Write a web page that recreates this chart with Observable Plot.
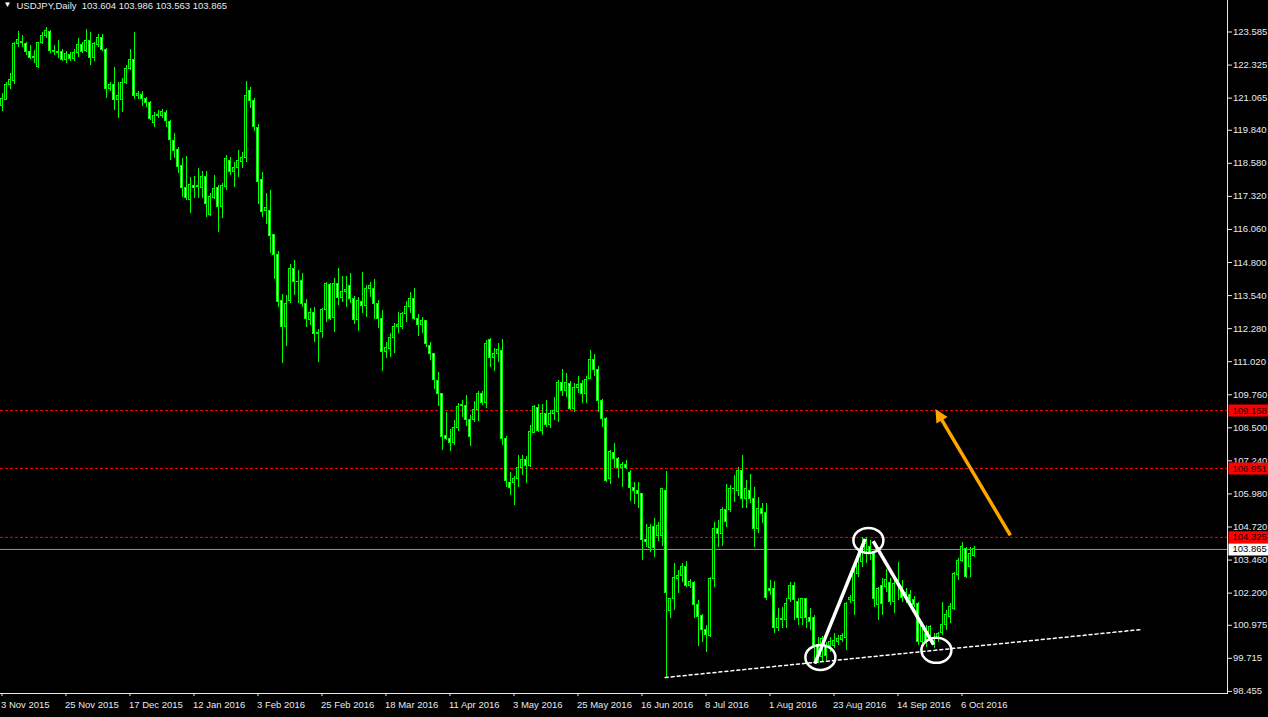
<!DOCTYPE html>
<html><head><meta charset="utf-8">
<script src="https://cdn.jsdelivr.net/npm/d3@7"></script>
<script src="https://cdn.jsdelivr.net/npm/@observablehq/plot@0.6"></script>
<style>
html,body{margin:0;padding:0;background:#000;overflow:hidden}
#chart{width:1268px;height:717px}
</style></head><body><div id="chart"></div>
<script>
// ---- data ----
const title = "USDJPY,Daily  103.604 103.986 103.563 103.865";
const opens = [120.75,121.01,121.57,121.71,123.13,123.20,123.13,122.82,122.60,122.25,123.16,123.43,123.58,122.86,122.84,122.82,122.52,122.71,122.56,122.79,123.10,122.85,123.26,122.60,123.10,123.36,122.90,121.42,121.55,121.00,121.00,121.65,122.18,122.52,121.13,121.18,121.04,120.88,120.13,120.38,120.40,120.51,120.15,119.42,119.07,118.46,117.65,117.19,117.72,117.67,117.65,118.05,116.62,117.27,117.63,116.91,117.67,118.65,118.24,118.41,118.62,118.79,121.32,120.97,119.93,117.93,116.76,116.78,115.83,115.09,113.35,112.36,113.35,114.56,114.06,114.08,113.22,112.60,112.88,112.06,112.15,113.00,113.96,112.69,113.99,113.45,113.67,113.92,113.41,112.61,113.29,113.16,113.80,113.80,113.20,112.65,111.38,111.51,111.93,112.33,112.36,112.82,113.12,113.41,112.65,112.40,112.56,111.60,111.32,110.30,109.77,108.17,108.08,107.91,108.50,109.32,109.35,108.80,108.80,109.18,109.79,109.44,111.83,111.17,111.30,111.42,108.08,106.39,106.39,106.56,106.98,107.26,107.06,108.30,109.26,108.37,109.01,108.59,109.01,109.10,110.20,109.92,110.17,109.22,110.00,110.17,109.77,110.37,111.09,110.71,109.54,108.84,106.56,107.53,107.32,106.98,107.10,106.77,106.21,106.09,105.99,104.23,103.91,104.72,104.37,104.37,106.11,101.50,101.96,102.75,102.85,103.19,102.46,102.58,101.73,101.32,100.78,100.56,102.74,104.65,104.46,105.35,105.35,106.15,106.11,106.87,105.79,106.11,105.79,104.63,105.39,105.26,102.36,102.36,100.86,101.22,101.16,101.98,102.46,101.88,101.25,101.96,101.25,101.26,100.17,99.75,100.20,100.17,100.20,100.33,100.42,100.50,101.92,101.89,102.93,103.38,103.70,103.95,103.70,101.73,102.49,102.45,102.58,101.86,102.55,102.45,102.02,102.11,101.92,101.79,100.33,100.65,100.58,100.39,100.46,100.68,100.97,101.28,101.60,102.91,103.44,103.89,103.19,103.604];
const highs = [121.23,121.67,121.99,123.20,123.60,123.45,123.20,123.07,122.88,123.20,123.55,123.77,123.66,123.07,123.26,122.90,122.85,122.80,122.90,123.32,123.20,123.67,123.58,123.20,123.48,123.50,122.95,121.67,122.25,121.67,121.80,122.30,122.90,123.55,121.30,121.30,121.10,120.95,120.50,120.58,120.65,120.60,120.20,119.70,119.20,118.75,118.84,118.05,118.08,118.37,118.28,118.28,117.42,118.12,117.73,117.82,118.88,118.81,118.62,119.07,119.00,121.70,121.48,121.04,120.06,118.24,117.42,117.54,115.85,115.23,113.58,113.54,114.72,114.88,114.50,114.37,113.39,113.03,113.10,112.25,113.05,114.02,114.00,114.18,114.56,114.27,114.27,114.37,113.50,113.48,114.43,113.92,114.05,114.14,113.35,112.97,111.76,112.11,112.46,112.91,112.91,113.33,113.67,113.80,112.82,112.72,112.59,111.76,111.35,110.62,109.80,109.10,108.42,108.78,109.44,109.54,109.73,108.97,109.52,109.90,109.90,111.83,111.90,111.51,111.73,111.85,108.17,106.81,106.65,107.45,107.45,107.41,108.59,109.35,109.39,109.39,109.54,109.16,109.67,110.30,110.71,110.58,110.28,110.17,110.46,110.30,110.46,111.45,111.29,110.84,109.57,108.88,107.64,107.91,107.38,107.19,107.25,106.87,106.43,106.43,106.01,104.82,104.80,105.06,104.90,106.17,106.84,102.00,103.32,103.06,103.32,103.41,102.72,102.64,101.92,101.37,100.97,102.81,104.90,104.97,105.48,106.33,106.30,106.68,107.00,107.45,106.49,106.71,106.24,105.86,105.60,105.60,102.68,102.64,101.60,101.67,102.01,102.62,102.62,102.01,102.01,102.01,101.60,101.35,100.52,100.55,100.33,100.50,100.65,100.58,100.68,101.86,102.11,103.06,103.89,104.33,104.33,104.20,103.76,102.43,102.74,103.09,102.74,102.68,103.38,102.68,102.36,102.30,102.07,101.86,101.09,100.97,100.97,100.65,100.71,101.86,101.54,101.79,103.00,103.51,104.14,103.95,103.95,103.986];
const lows = [120.57,120.97,121.38,121.60,123.00,123.01,122.70,122.52,122.37,122.20,123.10,123.33,122.78,122.69,122.56,122.45,122.40,122.45,122.45,122.63,122.75,122.80,122.31,122.45,123.00,122.85,121.06,121.30,120.59,120.30,120.53,121.60,122.10,121.00,121.00,120.75,120.70,120.20,119.95,120.30,120.30,119.95,118.69,118.75,118.20,117.29,117.17,116.68,117.23,117.23,117.23,116.50,116.55,117.20,115.96,116.46,117.54,118.10,117.65,118.05,118.40,118.60,120.66,119.80,117.01,116.50,116.25,115.13,114.15,113.10,110.96,111.60,113.25,113.54,113.25,113.10,112.31,112.40,111.76,111.00,111.90,112.53,112.60,112.15,113.16,113.29,113.10,113.23,112.44,112.18,112.84,112.72,113.48,112.61,112.27,110.66,111.13,111.17,111.34,112.11,112.23,112.53,112.84,112.59,111.98,112.08,111.55,111.07,109.95,109.33,107.64,108.02,107.61,107.83,108.37,108.88,108.55,107.79,108.71,108.75,109.35,109.22,110.81,110.66,111.00,107.83,106.24,105.92,105.54,106.24,106.68,106.39,107.00,108.27,108.33,108.21,108.52,108.46,108.78,108.71,109.69,109.67,109.16,109.10,109.80,109.42,109.44,110.33,110.46,109.10,108.50,106.43,106.34,106.94,106.56,106.24,106.90,105.71,105.58,105.41,103.44,103.95,103.74,103.57,104.17,103.99,98.98,101.22,101.54,102.17,102.59,102.43,102.39,101.22,100.18,100.33,99.95,100.52,102.43,103.95,103.99,104.71,105.26,105.67,105.90,105.41,105.41,105.60,103.95,104.46,104.84,101.92,102.11,100.65,100.72,100.84,100.84,101.86,101.16,100.97,100.97,100.84,100.78,99.63,99.51,99.60,99.63,99.95,100.08,100.20,100.30,100.01,101.79,101.35,102.81,103.19,103.32,103.45,101.66,101.16,101.35,102.24,101.73,101.41,101.92,101.86,101.79,101.79,101.64,100.20,100.14,100.14,100.33,100.08,100.33,100.58,100.78,101.03,101.54,102.68,103.38,102.74,102.81,103.563];
const closes = [121.04,121.55,121.74,123.13,123.29,123.15,122.82,122.59,122.63,123.17,123.45,123.64,122.85,122.84,122.80,122.52,122.73,122.56,122.79,123.10,122.82,123.24,122.60,123.11,123.36,122.90,121.42,121.55,121.00,121.13,121.65,122.18,122.52,121.13,121.23,121.04,120.87,120.25,120.38,120.43,120.52,120.19,119.45,119.04,118.43,117.65,117.25,117.77,117.65,117.70,118.05,117.04,117.29,117.61,116.91,117.70,118.75,118.24,118.41,118.66,118.79,121.13,120.97,119.96,117.86,116.72,116.88,115.80,115.09,113.29,112.36,113.20,114.56,114.05,114.04,113.22,112.65,112.88,112.08,112.12,113.00,113.99,112.65,113.99,113.45,113.67,113.76,113.41,112.61,113.33,113.16,113.80,113.92,113.20,112.65,111.38,111.55,111.93,112.36,112.40,112.82,113.12,113.41,112.65,112.40,112.56,111.70,111.32,110.33,109.77,108.14,108.08,107.91,108.50,109.31,109.37,108.78,108.14,109.18,109.79,109.44,111.70,111.17,111.30,111.45,108.08,106.49,106.21,106.56,106.98,107.26,107.06,108.33,109.29,108.37,109.01,108.59,109.01,109.14,110.20,109.92,110.20,109.22,110.02,110.15,109.77,110.33,111.09,110.71,109.52,108.84,106.49,107.57,107.32,106.98,107.10,106.98,106.21,106.09,105.99,104.23,104.14,104.68,103.91,104.75,106.15,102.21,101.96,102.77,102.85,103.19,102.46,102.64,101.73,101.28,100.78,100.59,102.74,104.65,104.46,105.35,104.90,106.15,106.18,106.87,105.79,106.15,105.79,104.63,105.39,105.22,102.01,102.28,100.86,101.22,101.16,101.79,102.46,101.92,101.25,101.96,101.25,101.09,100.14,99.73,100.45,99.82,100.33,100.39,100.46,100.58,101.79,102.02,102.96,103.44,103.76,104.08,103.70,101.98,102.36,101.79,102.70,101.86,102.55,102.71,102.02,102.20,101.92,101.73,100.33,101.00,100.29,100.90,100.24,100.65,100.97,101.35,101.67,102.94,103.44,103.95,102.81,103.70,103.865];

const dateTickIndex = [0,16,32,48,64,80,96,112,128,144,160,176,192,208,224,240];
const dateTickLabels = ["3 Nov 2015","25 Nov 2015","17 Dec 2015","12 Jan 2016","3 Feb 2016","25 Feb 2016","18 Mar 2016","11 Apr 2016","3 May 2016","25 May 2016","16 Jun 2016","8 Jul 2016","1 Aug 2016","23 Aug 2016","14 Sep 2016","6 Oct 2016"];
const priceTicks = [123.585,122.325,121.065,119.840,118.580,117.320,116.060,114.800,113.540,112.280,111.020,109.760,108.500,107.240,105.980,104.720,103.460,102.200,100.975,99.715,98.455];

const levelPrices = [109.158, 106.951, 104.325];
const lastPrice = 103.865;

// drawn annotations (bar index, price)
const trendIdx = [165.8, 284.6];
const trendPrice = [98.985, 100.81];
const legStartIdx = [203.2, 217.8];
const legStartPrice = [99.51, 104.18];
const legEndIdx = [215.8, 232.9];
const legEndPrice = [104.27, 100.24];
const circleIdx = [204.6, 216.6, 233.6];
const circlePrice = [99.75, 104.21, 100.02];
const arrowFromIdx = 252.1, arrowFromPrice = 104.40;
const arrowHeadIdx = 234.5, arrowHeadPrice = 108.92;
const arrowHeadRotate = -30.6;

// ---- tables ----
const candles = opens.map((o, i) => ({i, o, h: highs[i], l: lows[i], c: closes[i]}));
const bulls = candles.filter(d => d.c >= d.o);
const bears = candles.filter(d => d.c < d.o);
const trend = trendIdx.map((i, k) => ({i, p: trendPrice[k]}));
const legs = legStartIdx.map((i, k) => ({x1: i, y1: legStartPrice[k], x2: legEndIdx[k], y2: legEndPrice[k]}));
const circles = circleIdx.map((i, k) => ({i, p: circlePrice[k]}));
const dateTicks = dateTickIndex.map((i, k) => ({i, label: dateTickLabels[k]}));
const arrowLine = [{x1: arrowFromIdx, y1: arrowFromPrice, x2: arrowHeadIdx, y2: arrowHeadPrice}];
const fmt = d3.format(".3f");

function ellipse(rx, ry) {
  const k = 0.5523;
  return {draw(c) {
    c.moveTo(rx, 0);
    c.bezierCurveTo(rx, ry * k, rx * k, ry, 0, ry);
    c.bezierCurveTo(-rx * k, ry, -rx, ry * k, -rx, 0);
    c.bezierCurveTo(-rx, -ry * k, -rx * k, -ry, 0, -ry);
    c.bezierCurveTo(rx * k, -ry, rx, -ry * k, rx, 0);
    c.closePath();
  }};
}
const badge = {draw(c) { c.moveTo(1, -6); c.lineTo(42, -6); c.lineTo(42, 6); c.lineTo(1, 6); c.closePath(); }};
const arrowHead = {draw(c) { c.moveTo(0, -9); c.lineTo(6.5, 4); c.lineTo(-6.5, 4); c.closePath(); }};

const GREEN = "#00ff00";
const TXT = "#e4eaf0";

const chart = Plot.plot({
  width: 1268, height: 717,
  marginTop: 0, marginRight: 41, marginBottom: 24, marginLeft: 0,
  style: {background: "#000", color: TXT, fontFamily: "'Liberation Sans',Arial,sans-serif", fontSize: "9.5px"},
  x: {domain: [-0.375, 306.375], ticks: dateTickIndex, tickFormat: () => "", tickSize: 3, line: true, label: null},
  y: {domain: [98.375, 124.785], axis: "right", ticks: priceTicks, tickFormat: fmt, tickSize: 4, tickPadding: 1.5, line: true, label: null},
  marks: [
    Plot.ruleY(levelPrices, {stroke: "#ff0000", strokeDasharray: "3,2"}),
    Plot.ruleY([lastPrice], {stroke: "#8c98a8"}),
    Plot.ruleX(candles, {x: "i", y1: "l", y2: "h", stroke: GREEN, shapeRendering: "crispEdges"}),
    Plot.rect(bulls, {x1: d => d.i - 0.25, x2: d => d.i + 0.25, y1: "o", y2: "c", fill: "#000", stroke: GREEN, shapeRendering: "crispEdges"}),
    Plot.rect(bears, {x1: d => d.i - 0.25, x2: d => d.i + 0.25, y1: "c", y2: "o", fill: "#fff", stroke: GREEN, shapeRendering: "crispEdges"}),
    Plot.line(trend, {x: "i", y: "p", stroke: "#fff", strokeDasharray: "3,3"}),
    Plot.link(legs, {x1: "x1", y1: "y1", x2: "x2", y2: "y2", stroke: "#fff", strokeWidth: 3.5}),
    Plot.dot(circles, {x: "i", y: "p", symbol: ellipse(15, 12.5), stroke: "#fff", strokeWidth: 2.5, fill: "none"}),
    Plot.link(arrowLine, {x1: "x1", y1: "y1", x2: "x2", y2: "y2", stroke: "#ffa500", strokeWidth: 3.5}),
    Plot.dot([0], {x: () => arrowHeadIdx, y: () => arrowHeadPrice, symbol: arrowHead, rotate: arrowHeadRotate, fill: "#ffa500", stroke: "none"}),
    Plot.dot(levelPrices, {y: d => d, frameAnchor: "right", symbol: badge, fill: "#ff0000", stroke: "none"}),
    Plot.text(levelPrices, {y: d => d, frameAnchor: "right", text: d => fmt(d), textAnchor: "start", dx: 5, fill: "#200000"}),
    Plot.dot([lastPrice], {y: d => d, frameAnchor: "right", symbol: badge, fill: "#ffffff", stroke: "none"}),
    Plot.text([lastPrice], {y: d => d, frameAnchor: "right", text: d => fmt(d), textAnchor: "start", dx: 5, fill: "#000"}),
    Plot.text(dateTicks, {x: "i", text: "label", frameAnchor: "bottom", textAnchor: "start", lineAnchor: "middle", dy: 11, dx: -1, fill: TXT}),
    Plot.text([title], {text: d => d, frameAnchor: "top-left", textAnchor: "start", lineAnchor: "top", dx: 16, dy: 2, fill: TXT}),
    Plot.text(["\u25BC"], {text: d => d, frameAnchor: "top-left", textAnchor: "start", lineAnchor: "top", dx: 3, dy: 1, fill: "#fff", fontSize: 8})
  ]
});
document.getElementById("chart").appendChild(chart);
</script>
</body></html>
